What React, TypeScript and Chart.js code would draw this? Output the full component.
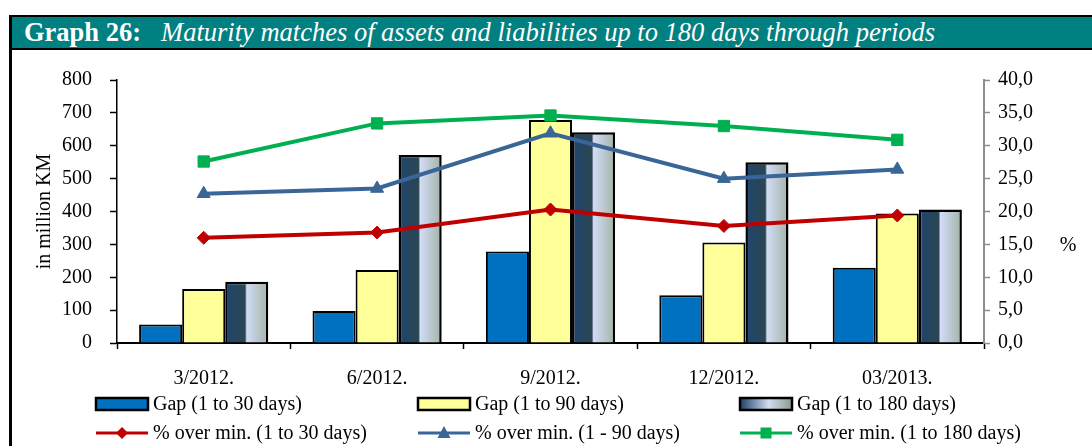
import React, { useEffect, useRef } from "react";
import { Chart, registerables } from "chart.js";

Chart.register(...registerables);

const categories = ["3/2012.", "6/2012.", "9/2012.", "12/2012.", "03/2013."];
const gap30 = [56, 97, 278, 145, 229];
const gap90 = [164, 222, 678, 306, 394];
const gap180 = [186, 572, 641, 550, 406];
const pct30 = [16.0, 16.8, 20.3, 17.8, 19.4];
const pct90 = [22.7, 23.5, 31.9, 25.0, 26.4];
const pct180 = [27.6, 33.4, 34.6, 33.0, 30.9];
const leftTicks = [0, 800, 100];
const rightTicks = [0, 40, 5];

const labels = [
  "Gap (1 to 30 days)",
  "Gap (1 to 90 days)",
  "Gap (1 to 180 days)",
  "% over min. (1 to 30 days)",
  "% over min. (1 - 90 days)",
  "% over min. (1 to 180 days)",
];

const FONT = "'Liberation Serif', 'Times New Roman', serif";
const CAT_PCT = 0.745;
const CANVAS_W = 1080;
const CANVAS_H = 396;

function gapGradient(ctx: CanvasRenderingContext2D, x0: number, w: number) {
  const g = ctx.createLinearGradient(x0, 0, x0 + w, 0);
  g.addColorStop(0, "#1f4570");
  g.addColorStop(0.46, "#2b4651");
  g.addColorStop(0.5, "#d2dcf6");
  g.addColorStop(1, "#a2b3a6");
  return g;
}

const legendPlugin = {
  id: "customLegend",
  afterDraw(chart: any) {
    const ctx: CanvasRenderingContext2D = chart.ctx;
    const cols = [84, 406, 728];
    const rows = [354, 383];
    ctx.save();
    ctx.font = `20px ${FONT}`;
    ctx.textBaseline = "middle";
    ctx.textAlign = "left";
    chart.data.datasets.forEach((ds: any, i: number) => {
      const x0 = cols[i % 3];
      const y = rows[Math.floor(i / 3)];
      if (ds.type === "line") {
        ctx.strokeStyle = ds.borderColor;
        ctx.lineWidth = 3;
        ctx.beginPath();
        ctx.moveTo(x0, y);
        ctx.lineTo(x0 + 52, y);
        ctx.stroke();
        ctx.fillStyle = ds.borderColor;
        const cx = x0 + 26;
        ctx.beginPath();
        if (ds.pointStyle === "rectRot") {
          ctx.moveTo(cx, y - 6);
          ctx.lineTo(cx + 6, y);
          ctx.lineTo(cx, y + 6);
          ctx.lineTo(cx - 6, y);
        } else if (ds.pointStyle === "triangle") {
          ctx.moveTo(cx, y - 7);
          ctx.lineTo(cx + 6.5, y + 5);
          ctx.lineTo(cx - 6.5, y + 5);
        } else {
          ctx.rect(cx - 5.5, y - 5.5, 11, 11);
        }
        ctx.closePath();
        ctx.fill();
      } else {
        if (i === 2) {
          const g = ctx.createLinearGradient(x0, 0, x0 + 52, 0);
          g.addColorStop(0, "#1f3f66");
          g.addColorStop(0.55, "#d2dcf0");
          g.addColorStop(1, "#8c9c8c");
          ctx.fillStyle = g;
        } else {
          ctx.fillStyle = ds.backgroundColor;
        }
        ctx.fillRect(x0, y - 6, 52, 12);
        ctx.strokeStyle = "#000";
        ctx.lineWidth = 2.5;
        ctx.strokeRect(x0, y - 6, 52, 12);
      }
      ctx.fillStyle = "#000";
      ctx.fillText(ds.label, x0 + 57, y + 1);
    });
    // right axis title
    ctx.textAlign = "center";
    ctx.fillText("%", 1056, 196);
    ctx.restore();
  },
};

export default function App() {
  const ref = useRef<HTMLCanvasElement | null>(null);

  useEffect(() => {
    if (!ref.current) return;
    const chart = new Chart(ref.current, {
      type: "bar",
      data: {
        labels: categories,
        datasets: [
          {
            type: "bar",
            label: labels[0],
            data: gap30,
            backgroundColor: "#0070c0",
            borderColor: "#000",
            borderWidth: 2,
            yAxisID: "y",
            order: 2,
          },
          {
            type: "bar",
            label: labels[1],
            data: gap90,
            backgroundColor: "#ffff99",
            borderColor: "#000",
            borderWidth: 2,
            yAxisID: "y",
            order: 2,
          },
          {
            type: "bar",
            label: labels[2],
            data: gap180,
            backgroundColor: (c: any) => {
              const ch = c.chart;
              if (!ch.chartArea || c.type !== "data") return "#2a4a66";
              const xs = ch.scales.x;
              const center = xs.getPixelForValue(c.dataIndex);
              const catW = xs.width / categories.length;
              const barW = (catW * CAT_PCT) / 3;
              return gapGradient(ch.ctx, center + 0.5 * barW, barW);
            },
            borderColor: "#000",
            borderWidth: 2.5,
            yAxisID: "y",
            order: 2,
          },
          {
            type: "line",
            label: labels[3],
            data: pct30,
            borderColor: "#c00000",
            backgroundColor: "#c00000",
            borderWidth: 4,
            pointStyle: "rectRot",
            pointRadius: 6.5,
            pointBorderWidth: 1,
            tension: 0,
            yAxisID: "y1",
            order: 0,
          },
          {
            type: "line",
            label: labels[4],
            data: pct90,
            borderColor: "#3a6597",
            backgroundColor: "#3a6597",
            borderWidth: 4,
            pointStyle: "triangle",
            pointRadius: 7.5,
            pointBorderWidth: 1,
            tension: 0,
            yAxisID: "y1",
            order: 0,
          },
          {
            type: "line",
            label: labels[5],
            data: pct180,
            borderColor: "#00b050",
            backgroundColor: "#00b050",
            borderWidth: 4,
            pointStyle: "rect",
            pointRadius: 8,
            pointBorderWidth: 1,
            tension: 0,
            yAxisID: "y1",
            order: 0,
          },
        ] as any,
      },
      options: {
        responsive: false,
        devicePixelRatio: 1,
        animation: false,
        layout: { padding: { top: 28, left: 0, right: 0, bottom: 0 } },
        plugins: {
          legend: { display: false },
          tooltip: { enabled: false },
          title: { display: false },
        },
        datasets: {
          bar: { categoryPercentage: CAT_PCT, barPercentage: 1 },
        },
        scales: {
          x: {
            offset: true,
            grid: {
              offset: true,
              drawOnChartArea: false,
              drawTicks: true,
              tickLength: 6,
              color: "#000",
              tickColor: "#000",
              tickWidth: 1.5,
            },
            border: { display: true, color: "#000", width: 2 },
            ticks: {
              color: "#000",
              font: { family: FONT, size: 20 },
              padding: 18,
              maxRotation: 0,
            },
            afterFit: (s: any) => {
              s.height = CANVAS_H - 293;
            },
          },
          y: {
            position: "left",
            min: leftTicks[0],
            max: leftTicks[1],
            ticks: {
              stepSize: leftTicks[2],
              color: "#000",
              font: { family: FONT, size: 20 },
              padding: 18,
            },
            grid: {
              drawOnChartArea: false,
              drawTicks: true,
              tickLength: 7,
              color: "#000",
              tickColor: "#000",
              tickWidth: 1.5,
            },
            border: { display: true, color: "#000", width: 1.5 },
            title: {
              display: true,
              text: "in million KM",
              color: "#000",
              font: { family: FONT, size: 20 },
              padding: { top: 21, bottom: 0 },
            },
            afterFit: (s: any) => {
              s.width = 105;
            },
          },
          y1: {
            position: "right",
            min: rightTicks[0],
            max: rightTicks[1],
            ticks: {
              stepSize: rightTicks[2],
              color: "#000",
              font: { family: FONT, size: 20 },
              padding: 8,
              callback: (v: any) => Number(v).toFixed(1).replace(".", ","),
            },
            grid: {
              drawOnChartArea: false,
              drawTicks: true,
              tickLength: 6,
              color: "#8c8c8c",
              tickColor: "#8c8c8c",
              tickWidth: 1.5,
            },
            border: { display: true, color: "#8c8c8c", width: 2 },
            afterFit: (s: any) => {
              s.width = CANVAS_W - 972;
            },
          },
        },
      } as any,
      plugins: [legendPlugin],
    });
    return () => chart.destroy();
  }, []);

  return (
    <div
      style={{
        position: "absolute",
        left: 0,
        top: 0,
        width: 1092,
        height: 446,
        overflow: "hidden",
        background: "#fff",
      }}
    >
      <div
        style={{
          position: "absolute",
          left: 9,
          top: 15,
          width: 1083,
          height: 431,
          boxSizing: "border-box",
          borderLeft: "3px solid #000",
          borderTop: "2px solid #000",
        }}
      />
      <div
        style={{
          position: "absolute",
          left: 12,
          top: 17,
          width: 1080,
          height: 31,
          background: "#008080",
          borderBottom: "2px solid #000",
          color: "#fff",
          fontFamily: FONT,
          fontSize: 26.5,
          lineHeight: "31px",
          whiteSpace: "nowrap",
          paddingLeft: 12,
          boxSizing: "content-box",
        }}
      >
        <span style={{ fontWeight: "bold" }}>Graph 26:</span>
        <span style={{ fontStyle: "italic", marginLeft: 20 }}>
          Maturity matches of assets and liabilities up to 180 days through periods
        </span>
      </div>
      <canvas
        ref={ref}
        width={CANVAS_W}
        height={CANVAS_H}
        style={{
          position: "absolute",
          left: 12,
          top: 50,
          width: CANVAS_W,
          height: CANVAS_H,
        }}
      />
    </div>
  );
}
